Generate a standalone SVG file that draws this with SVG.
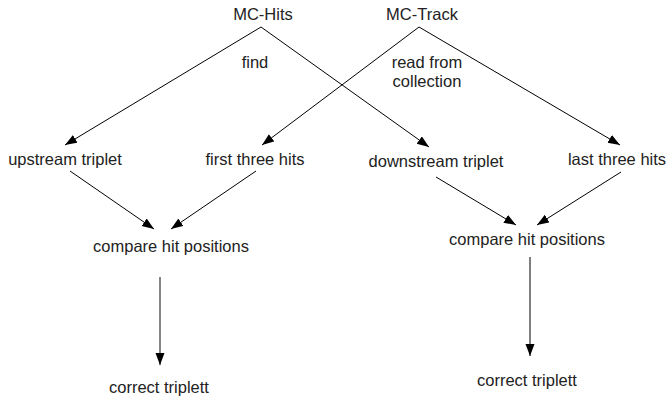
<svg xmlns="http://www.w3.org/2000/svg" width="670" height="400" viewBox="0 0 670 400">
<style>
text{font-family:"Liberation Sans",Arial,sans-serif;font-size:16.5px;fill:#222;text-anchor:middle}
.e{stroke:#000;stroke-width:1;fill:none;marker-end:url(#ah)}
.g{stroke:#666;stroke-width:1.6;fill:none;marker-end:url(#ah)}
</style>
<defs>
<marker id="ah" markerUnits="userSpaceOnUse" markerWidth="13" markerHeight="10" refX="12" refY="4.5" orient="auto">
<path d="M0,0 L12,4.5 L0,9 z" fill="#000"/>
</marker>
</defs>
<rect width="670" height="400" fill="#fff"/>
<g id="connectors">
<line class="e" x1="261" y1="27" x2="65" y2="145"/>
<line class="e" x1="261" y1="27" x2="429" y2="147"/>
<line class="e" x1="419" y1="27" x2="262" y2="145"/>
<line class="e" x1="419" y1="27" x2="620" y2="145"/>
<line class="e" x1="70" y1="171" x2="154" y2="229"/>
<line class="e" x1="256" y1="171" x2="171" y2="229"/>
<line class="e" x1="436" y1="177" x2="516" y2="225"/>
<line class="e" x1="621" y1="172" x2="537" y2="225"/>
<line class="g" x1="160" y1="277" x2="160" y2="365"/>
<line class="e" x1="530" y1="257" x2="530" y2="356"/>
</g>
<g id="mc-hits"><text x="263" y="20">MC-Hits</text></g>
<g id="mc-track"><text x="422" y="20">MC-Track</text></g>
<g id="label-find"><text x="255" y="68">find</text></g>
<g id="label-read"><text x="427" y="68">read from</text><text x="427" y="87">collection</text></g>
<g id="upstream"><text x="65" y="165">upstream triplet</text></g>
<g id="first-three"><text x="255" y="165">first three hits</text></g>
<g id="downstream"><text x="436" y="167">downstream triplet</text></g>
<g id="last-three"><text x="617" y="165">last three hits</text></g>
<g id="compare-left"><text x="171" y="252">compare hit positions</text></g>
<g id="compare-right"><text x="527" y="245">compare hit positions</text></g>
<g id="correct-left"><text x="159" y="393">correct triplett</text></g>
<g id="correct-right"><text x="527" y="386">correct triplett</text></g>
</svg>
